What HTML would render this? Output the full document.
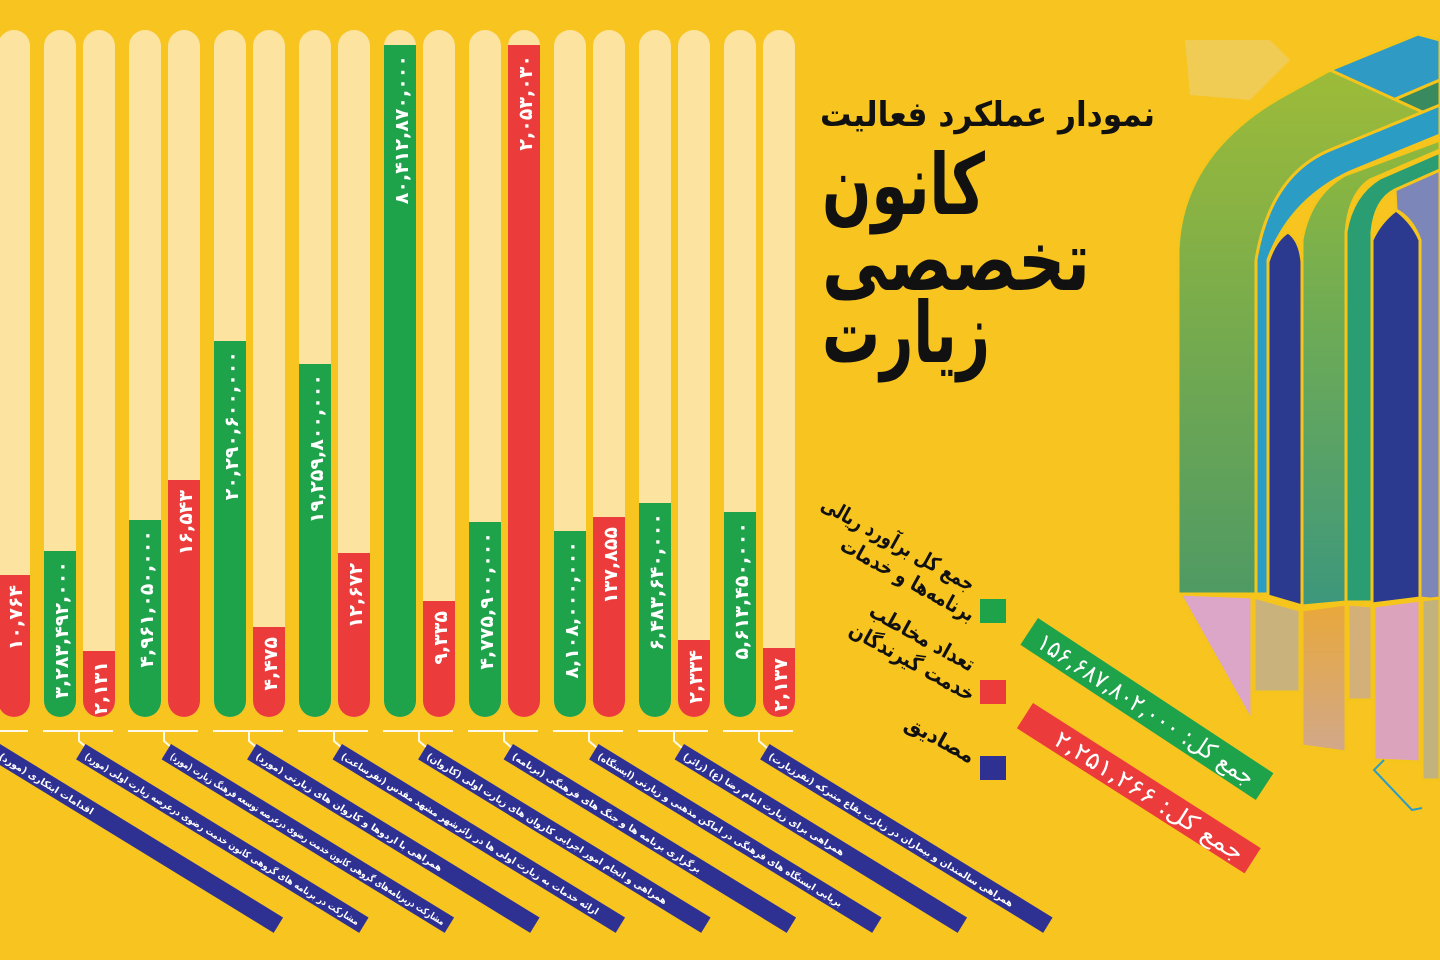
<!DOCTYPE html>
<html><head><meta charset="utf-8"><style>
html,body{margin:0;padding:0;background:#f8c420;}
svg{display:block}
text{font-family:"DejaVu Sans","Liberation Sans",sans-serif;}
</style></head><body>
<svg width="1440" height="960" viewBox="0 0 1440 960" xmlns="http://www.w3.org/2000/svg">
<defs>
<linearGradient id="gA" x1="0" y1="0" x2="0" y2="1"><stop offset="0" stop-color="#9dbb38"/><stop offset="1" stop-color="#4f9a64"/></linearGradient>
<linearGradient id="gB" x1="0" y1="0" x2="0" y2="1"><stop offset="0" stop-color="#8fb83c"/><stop offset="1" stop-color="#3d977c"/></linearGradient>
<linearGradient id="gC" x1="0" y1="0" x2="0" y2="1"><stop offset="0" stop-color="#e9a83a"/><stop offset="1" stop-color="#d1a88a"/></linearGradient>
</defs>
<rect width="1440" height="960" fill="#f8c420"/>

<g fill="#fde3a0">
<rect x="-2" y="30" width="32" height="687" rx="16"/>
<rect x="44" y="30" width="32" height="687" rx="16"/><rect x="83" y="30" width="32" height="687" rx="16"/>
<rect x="129" y="30" width="32" height="687" rx="16"/><rect x="168" y="30" width="32" height="687" rx="16"/>
<rect x="214" y="30" width="32" height="687" rx="16"/><rect x="253" y="30" width="32" height="687" rx="16"/>
<rect x="299" y="30" width="32" height="687" rx="16"/><rect x="338" y="30" width="32" height="687" rx="16"/>
<rect x="384" y="30" width="32" height="687" rx="16"/><rect x="423" y="30" width="32" height="687" rx="16"/>
<rect x="469" y="30" width="32" height="687" rx="16"/><rect x="508" y="30" width="32" height="687" rx="16"/>
<rect x="554" y="30" width="32" height="687" rx="16"/><rect x="593" y="30" width="32" height="687" rx="16"/>
<rect x="639" y="30" width="32" height="687" rx="16"/><rect x="678" y="30" width="32" height="687" rx="16"/>
<rect x="724" y="30" width="32" height="687" rx="16"/><rect x="763" y="30" width="32" height="687" rx="16"/>
</g>
<g fill="#1ea24a">
<path d="M44,551 H76 V701 A16,16 0 0 1 44,701 Z"/>
<path d="M129,520 H161 V701 A16,16 0 0 1 129,701 Z"/>
<path d="M214,341 H246 V701 A16,16 0 0 1 214,701 Z"/>
<path d="M299,364 H331 V701 A16,16 0 0 1 299,701 Z"/>
<path d="M384,45 H416 V701 A16,16 0 0 1 384,701 Z"/>
<path d="M469,522 H501 V701 A16,16 0 0 1 469,701 Z"/>
<path d="M554,531 H586 V701 A16,16 0 0 1 554,701 Z"/>
<path d="M639,503 H671 V701 A16,16 0 0 1 639,701 Z"/>
<path d="M724,512 H756 V701 A16,16 0 0 1 724,701 Z"/>
</g>
<g fill="#ec3b3b">
<path d="M-2,575 H30 V701 A16,16 0 0 1 -2,701 Z"/>
<path d="M83,651 H115 V701 A16,16 0 0 1 83,701 Z"/>
<path d="M168,480 H200 V701 A16,16 0 0 1 168,701 Z"/>
<path d="M253,627 H285 V701 A16,16 0 0 1 253,701 Z"/>
<path d="M338,553 H370 V701 A16,16 0 0 1 338,701 Z"/>
<path d="M423,601 H455 V701 A16,16 0 0 1 423,701 Z"/>
<path d="M508,45 H540 V701 A16,16 0 0 1 508,701 Z"/>
<path d="M593,517 H625 V701 A16,16 0 0 1 593,701 Z"/>
<path d="M678,640 H710 V701 A16,16 0 0 1 678,701 Z"/>
<path d="M763,648 H795 V701 A16,16 0 0 1 763,701 Z"/>
</g>
<g fill="#fff" font-size="19" font-weight="bold" text-anchor="end" direction="ltr">
<text transform="translate(22,585) rotate(-90)">۱۰,۷۶۴</text>
<text transform="translate(68,561) rotate(-90)">۳,۲۸۳,۴۹۲,۰۰۰</text>
<text transform="translate(107,661) rotate(-90)">۲,۱۳۱</text>
<text transform="translate(153,530) rotate(-90)">۴,۹۶۱,۰۵۰,۰۰۰</text>
<text transform="translate(192,490) rotate(-90)">۱۶,۵۴۳</text>
<text transform="translate(238,351) rotate(-90)">۲۰,۲۹۰,۶۰۰,۰۰۰</text>
<text transform="translate(277,637) rotate(-90)">۴,۴۷۵</text>
<text transform="translate(323,374) rotate(-90)">۱۹,۲۵۹,۸۰۰,۰۰۰</text>
<text transform="translate(362,563) rotate(-90)">۱۲,۶۷۲</text>
<text transform="translate(408,55) rotate(-90)">۸۰,۴۱۲,۸۷۰,۰۰۰</text>
<text transform="translate(447,611) rotate(-90)">۹,۳۳۵</text>
<text transform="translate(493,532) rotate(-90)">۴,۷۷۵,۹۰۰,۰۰۰</text>
<text transform="translate(532,55) rotate(-90)">۲,۰۵۳,۰۳۰</text>
<text transform="translate(578,541) rotate(-90)">۸,۱۰۸,۰۰۰,۰۰۰</text>
<text transform="translate(617,527) rotate(-90)">۱۳۷,۸۵۵</text>
<text transform="translate(663,513) rotate(-90)">۶,۴۸۳,۶۴۰,۰۰۰</text>
<text transform="translate(702,650) rotate(-90)">۲,۳۳۴</text>
<text transform="translate(748,522) rotate(-90)">۵,۶۱۳,۴۵۰,۰۰۰</text>
<text transform="translate(787,658) rotate(-90)">۲,۱۳۷</text>
</g>

<g stroke="#fff" stroke-width="2" fill="none" opacity="0.9">
<line x1="0" y1="731" x2="28" y2="731"/>
<line x1="43" y1="731" x2="113" y2="731"/><line x1="128" y1="731" x2="198" y2="731"/>
<line x1="213" y1="731" x2="283" y2="731"/><line x1="298" y1="731" x2="368" y2="731"/>
<line x1="383" y1="731" x2="453" y2="731"/><line x1="468" y1="731" x2="538" y2="731"/>
<line x1="553" y1="731" x2="623" y2="731"/><line x1="638" y1="731" x2="708" y2="731"/>
<line x1="723" y1="731" x2="793" y2="731"/>
<polyline points="79,731 79,741 87,748"/><polyline points="164,731 164,741 172,748"/>
<polyline points="249,731 249,741 257,748"/><polyline points="334,731 334,741 342,748"/>
<polyline points="419,731 419,741 427,748"/><polyline points="504,731 504,741 512,748"/>
<polyline points="589,731 589,741 597,748"/><polyline points="674,731 674,741 682,748"/>
<polyline points="759,731 759,741 767,748"/>
</g>

<g font-size="9.5" font-weight="bold" fill="#fff">
<g transform="translate(0,744) rotate(31.5)"><rect width="332" height="18" fill="#2e3192"/><text x="6" y="13" direction="rtl" text-anchor="end">اقدامات ابتکاری (مورد)</text></g>
<g transform="translate(85.5,744) rotate(31.5)"><rect width="332" height="18" fill="#2e3192"/><text x="6" y="13" direction="rtl" text-anchor="end" textLength="320" lengthAdjust="spacingAndGlyphs">مشارکت در برنامه های گروهی کانون خدمت رضوی درعرصه زیارت اولی (مورد)</text></g>
<g transform="translate(171,744) rotate(31.5)"><rect width="332" height="18" fill="#2e3192"/><text x="6" y="13" direction="rtl" text-anchor="end" textLength="320" lengthAdjust="spacingAndGlyphs">مشارکت دربرنامه‌های گروهی کانون خدمت رضوی درعرصه توسعه فرهنگ زیارت (مورد)</text></g>
<g transform="translate(256.5,744) rotate(31.5)"><rect width="332" height="18" fill="#2e3192"/><text x="6" y="13" direction="rtl" text-anchor="end">همراهی با اردوها و کاروان های زیارتی (مورد)</text></g>
<g transform="translate(342,744) rotate(31.5)"><rect width="332" height="18" fill="#2e3192"/><text x="6" y="13" direction="rtl" text-anchor="end" textLength="300" lengthAdjust="spacingAndGlyphs">ارائه خدمات به زیارت اولی ها در زائرشهر مشهد مقدس (نفرساعت)</text></g>
<g transform="translate(427.5,744) rotate(31.5)"><rect width="332" height="18" fill="#2e3192"/><text x="6" y="13" direction="rtl" text-anchor="end" textLength="280" lengthAdjust="spacingAndGlyphs">همراهی و انجام امور اجرایی کاروان های زیارت اولی (کاروان)</text></g>
<g transform="translate(513,744) rotate(31.5)"><rect width="332" height="18" fill="#2e3192"/><text x="6" y="13" direction="rtl" text-anchor="end">برگزاری برنامه ها و جنگ های فرهنگی (برنامه)</text></g>
<g transform="translate(598.5,744) rotate(31.5)"><rect width="332" height="18" fill="#2e3192"/><text x="6" y="13" direction="rtl" text-anchor="end" textLength="285" lengthAdjust="spacingAndGlyphs">برپایی ایستگاه های فرهنگی در اماکن مذهبی و زیارتی (ایستگاه)</text></g>
<g transform="translate(684,744) rotate(31.5)"><rect width="332" height="18" fill="#2e3192"/><text x="6" y="13" direction="rtl" text-anchor="end">همراهی برای زیارت امام رضا (ع) (زائر)</text></g>
<g transform="translate(769.5,744) rotate(31.5)"><rect width="332" height="18" fill="#2e3192"/><text x="6" y="13" direction="rtl" text-anchor="end" textLength="285" lengthAdjust="spacingAndGlyphs">همراهی سالمندان و بیماران در زیارت بقاع متبرکه (نفرزیارت)</text></g>
</g>

<g direction="rtl" font-weight="bold" fill="#111">
<text x="1155" y="126" font-size="34" text-anchor="start" textLength="335" lengthAdjust="spacingAndGlyphs">نمودار عملکرد فعالیت</text>
<text x="985" y="214" font-size="84" text-anchor="start" textLength="163" lengthAdjust="spacingAndGlyphs">کانون</text>
<text x="1090" y="290" font-size="84" text-anchor="start" textLength="268" lengthAdjust="spacingAndGlyphs">تخصصی</text>
<text x="990" y="362" font-size="84" text-anchor="start" textLength="168" lengthAdjust="spacingAndGlyphs">زیارت</text>
</g>

<g font-weight="bold" fill="#111" font-size="21" direction="rtl">
<text transform="translate(970,592) rotate(29)" text-anchor="start" textLength="172" lengthAdjust="spacingAndGlyphs">جمع کل برآورد ریالی</text>
<text transform="translate(970,622) rotate(29)" text-anchor="start" textLength="150" lengthAdjust="spacingAndGlyphs">برنامه‌ها و خدمات</text>
<text transform="translate(970,672) rotate(29)" text-anchor="start" textLength="117" lengthAdjust="spacingAndGlyphs">تعداد مخاطب</text>
<text transform="translate(970,702) rotate(29)" text-anchor="start" textLength="140" lengthAdjust="spacingAndGlyphs">خدمت گیرندگان</text>
<text transform="translate(970,764) rotate(29)" text-anchor="start" textLength="76" lengthAdjust="spacingAndGlyphs">مصادیق</text>
</g>
<rect x="980" y="599" width="26" height="24" fill="#1ea24a"/>
<rect x="980" y="680" width="26" height="24" fill="#ec3b3b"/>
<rect x="980" y="756" width="26" height="24" fill="#2e3192"/>

<g transform="translate(1038,618) rotate(33.4)">
<rect x="0" y="0" width="282" height="32" fill="#1ea24a"/>
<text x="268" y="25" font-size="24" fill="#fff" direction="rtl" text-anchor="start" textLength="255" lengthAdjust="spacingAndGlyphs">جمع کل: ۱۵۶,۶۸۷,۸۰۲,۰۰۰</text>
</g>
<g transform="translate(1033,703) rotate(32.5)">
<rect x="0" y="0" width="270" height="30" fill="#ec3b3b"/>
<text x="258" y="24" font-size="24" fill="#fff" direction="rtl" text-anchor="start" textLength="220" lengthAdjust="spacingAndGlyphs">جمع کل: ۲,۲۵۱,۲۶۶</text>
</g>

<g stroke="#f6c51c" stroke-width="3" stroke-linejoin="round">
<polygon points="1185,40 1270,40 1290,60 1250,100 1190,95" fill="#e8d48a" opacity="0.5" stroke="none"/>
<path d="M1330,70 L1418,34 L1440,40 L1440,80 L1370,110 Z" fill="#2f9bc4"/>
<path d="M1370,110 L1440,80 L1440,120 L1400,138 Z" fill="#3a8a60"/>
<path d="M1178,594 L1178,250 Q1182,150 1290,92 L1330,70 L1440,120 L1440,135 Q1300,150 1262,250 L1256,594 Z" fill="url(#gA)"/>
<path d="M1256,594 L1256,260 Q1270,175 1330,150 L1440,105 L1440,135 L1350,172 Q1290,200 1268,260 L1268,594 Z" fill="#2b9dc4"/>
<path d="M1268,596 L1268,262 Q1275,240 1288,232 Q1300,240 1302,262 L1302,606 Z" fill="#2b3a8e"/>
<path d="M1302,606 L1302,240 Q1310,195 1345,175 L1440,140 L1440,150 L1370,180 Q1348,195 1346,235 L1346,602 Z" fill="url(#gB)"/>
<path d="M1346,602 L1346,232 Q1352,195 1380,178 L1440,152 L1440,170 L1395,190 Q1375,200 1372,232 L1372,602 Z" fill="#2a9e72"/>
<path d="M1372,604 L1372,240 Q1380,222 1396,210 Q1412,222 1420,240 L1420,598 Z" fill="#2b3a8e"/>
<path d="M1395,190 L1440,170 L1440,600 L1420,598 L1420,240 Q1412,218 1396,210 Z" fill="#7d86b8"/>
<polygon points="1180,594 1252,597 1252,722" fill="#dca6c8"/>
<polygon points="1254,597 1300,610 1300,692 1254,692" fill="#c9b27c"/>
<polygon points="1302,610 1346,604 1346,752 1302,746" fill="url(#gC)"/>
<polygon points="1348,604 1372,606 1372,700 1348,700" fill="#d3b07a"/>
<polygon points="1374,606 1420,600 1420,762 1374,760" fill="#dba4bc"/>
<polygon points="1422,600 1440,598 1440,780 1422,780" fill="#c2b27c"/>
</g>
<polyline points="1384,760 1374,770 1412,810 1422,808" stroke="#2b9dc4" stroke-width="2" fill="none"/>
</svg>
</body></html>
